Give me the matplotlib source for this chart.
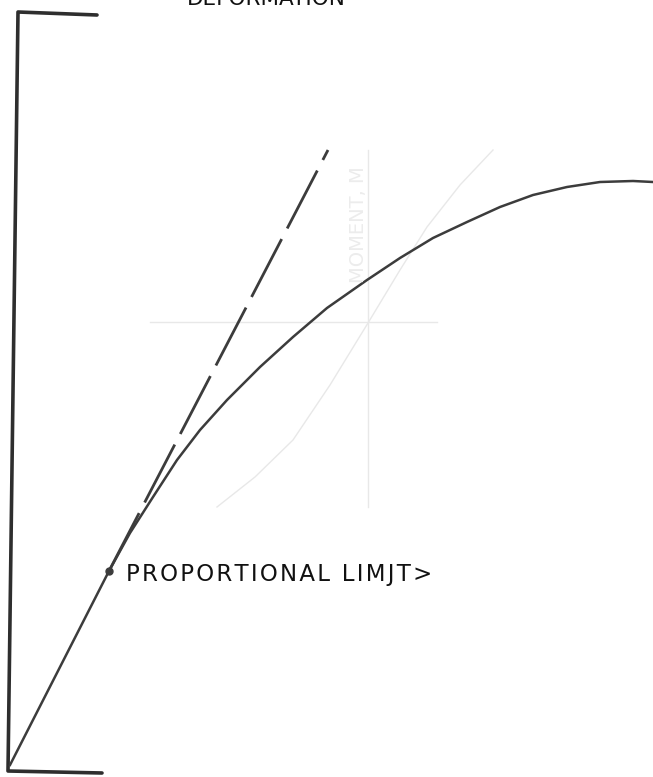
import numpy as np
import matplotlib.pyplot as plt

# load-deformation curve (deformation, load), origin at the lower left corner
deformation = [0, 99, 120, 143, 167, 190, 217, 250, 283, 317, 357, 390, 423,
               457, 490, 523, 557, 590, 623, 643]
load = [0, 194, 232, 268, 305, 335, 365, 398, 428, 457, 485, 507, 527,
        543, 558, 570, 578, 583, 584, 583]

# proportional limit and the straight extension of the elastic part
prop_limit = (99, 194)
elastic_x = [99, 318]
elastic_y = [194, 615]

# hand-drawn bracket for the axes
frame_x = [87, 8, -2, 92]
frame_y = [750, 753, -6, -8]

# faint marks showing through from the back of the sheet
ghost_h = ([140, 427], [443, 443])
ghost_v = ([358, 358], [615, 258])
ghost_curve_x = [207, 245, 283, 320, 358, 390, 417, 450, 483]
ghost_curve_y = [258, 288, 325, 380, 442, 495, 538, 580, 615]

# letter-spaced label (hair spaces between the letters)
label_limit = "\u200a".join("PROPORTIONAL LIMJT>")
label_top = "DEFORMATION"


def main():
    fig = plt.figure(figsize=(6.53, 7.77), dpi=100)
    ax = fig.add_axes([0, 0, 1, 1])
    ax.set_xlim(-10, 643)
    ax.set_ylim(-12, 765)
    ax.axis('off')

    faint = '#e8e8e8'
    ax.plot(*ghost_h, color=faint, lw=1.0)
    ax.plot(*ghost_v, color=faint, lw=1.0)
    ax.plot(ghost_curve_x, ghost_curve_y, color=faint, lw=1.0)
    ax.text(348, 540, "MOMENT, M", rotation=90, color='#ececec',
            fontsize=14, ha='center', va='center')

    ax.plot(frame_x, frame_y, color='#2e2e2e', lw=2.6,
            solid_joinstyle='round', solid_capstyle='round')

    ax.plot(deformation, load, color='#3c3c3c', lw=1.8,
            solid_joinstyle='round')
    dash, = ax.plot(elastic_x, elastic_y, color='#3c3c3c', lw=2.0)
    dash.set_dashes((23.5, 4.3))

    ax.plot(*prop_limit, 'o', color='#3c3c3c', markersize=5)

    ax.text(116, 184, label_limit, fontsize=16.5, color='#111111',
            ha='left', va='baseline')
    ax.text(256, 760, label_top, fontsize=15.5, color='#111111',
            ha='center', va='baseline')

    fig.savefig('out.png', dpi=100, facecolor='white')


if __name__ == '__main__':
    main()
